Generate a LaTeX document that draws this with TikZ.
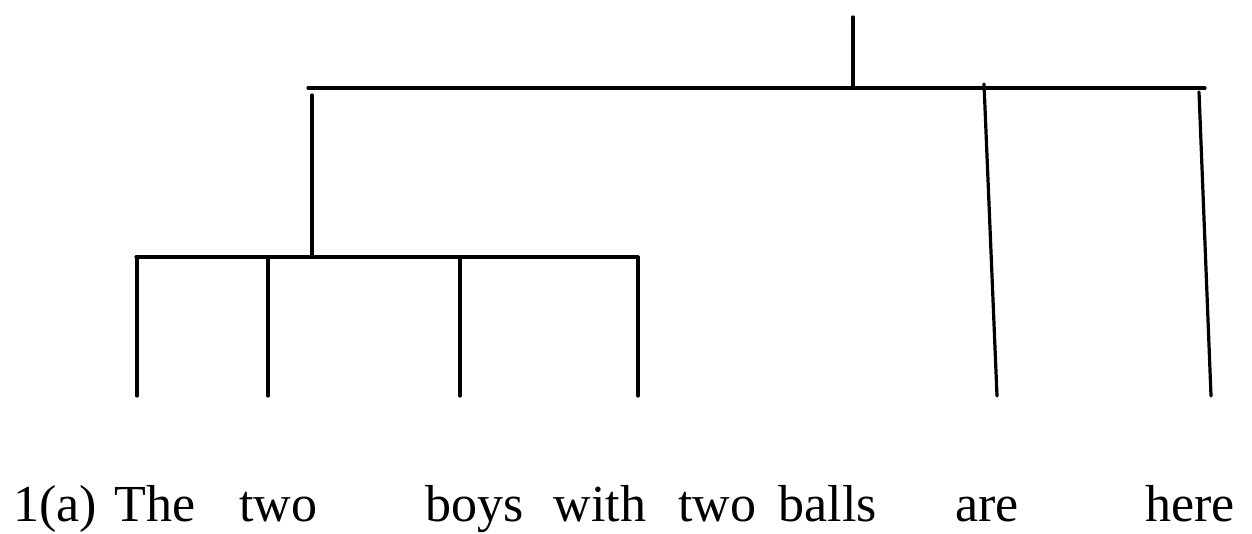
\documentclass[tikz,border=0pt]{standalone}
\usepackage{fontspec}
\setmainfont{Liberation Serif}

\tikzset{
  branch/.style = {line width = 1.6pt, line cap = round},
  word/.style = {anchor = base, inner sep = 0pt, font = \fontsize{26}{30}\selectfont}
}

\begin{document}
\begin{tikzpicture}[x = 0.5pt, y = -0.5pt]

\useasboundingbox[fill = white] (0, 0) rectangle (1252, 534);

% the sentence
\foreach \w/\x/\n in {1(a)/55/lab, The/155/w1, two/278/w2, boys/475/w3,
                      with/600/w4, two/717/w5, balls/828/w6, are/987/w7,
                      here/1190/w8} {
  \node[word] (\n) at (\x, 521) {\w};
}

% the points of the tree
\coordinate (root) at (853, 17);
\coordinate (top) at (853, 88);
\coordinate (topL) at (308, 88);
\coordinate (topR) at (1205, 88);
\coordinate (np) at (312, 95);
\coordinate (np bar) at (312, 257);
\coordinate (npL) at (136, 257);
\coordinate (npR) at (638, 257);

% the tree
\draw[branch] (root) -- (top);
\draw[branch] (topL) -- (topR);
\draw[branch] (np) -- (np bar);
\draw[branch] (npL) -- (npR);
\foreach \x/\n in {137/a, 268/b, 460/c, 638/d} {
  \coordinate (leaf \n) at (\x, 396);
  \draw[branch] (\x, 257) -- (leaf \n);
}
\coordinate (are top) at (984, 84);
\coordinate (are foot) at (997, 396);
\coordinate (here top) at (1199, 92);
\coordinate (here foot) at (1211, 396);
\draw[branch] (are top) -- (are foot);
\draw[branch] (here top) -- (here foot);

\end{tikzpicture}
\end{document}
